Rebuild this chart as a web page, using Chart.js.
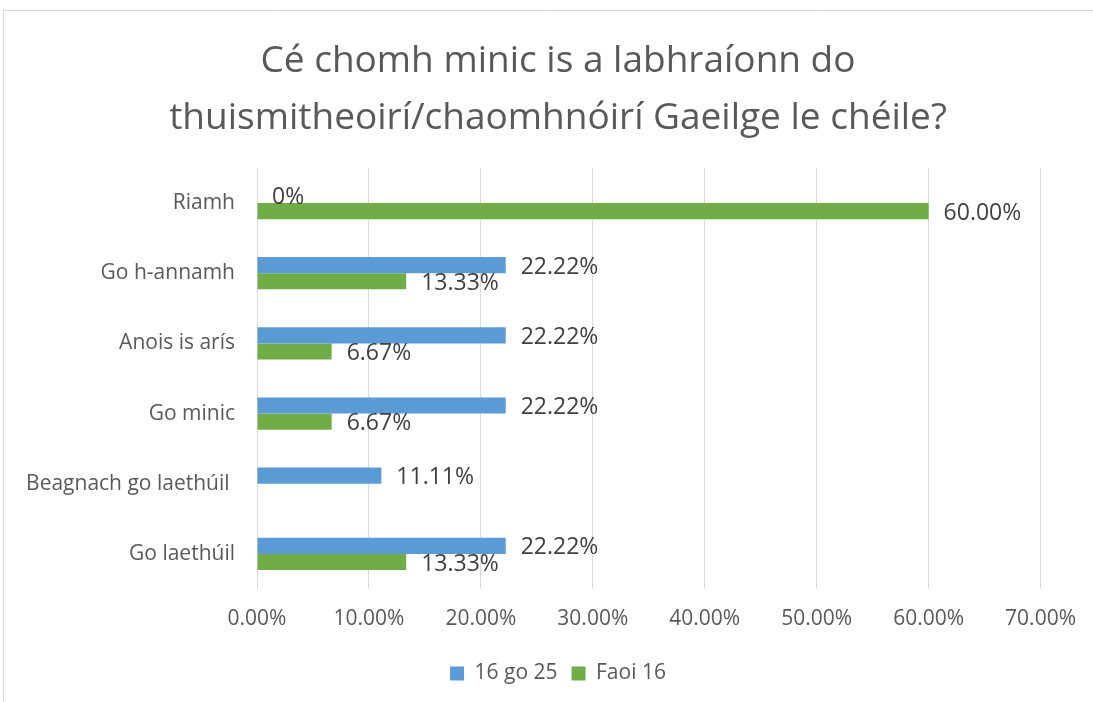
<!DOCTYPE html>
<html>
<head>
<meta charset="utf-8">
<script src="https://cdn.jsdelivr.net/npm/chart.js@4/dist/chart.umd.min.js"></script>
<style>
html,body{margin:0;padding:0;background:#fff;}
#wrap{width:1093px;height:702px;position:relative;}
</style>
</head>
<body>
<div id="wrap"><canvas id="c" width="1093" height="702"></canvas></div>
<script>
const titleLines = ["Cé chomh minic is a labhraíonn do", "thuismitheoirí/chaomhnóirí Gaeilge le chéile?"];
const categories = ["Riamh", "Go h-annamh", "Anois is arís", "Go minic", "Beagnach go laethúil ", "Go laethúil"];
const seriesNames = ["16 go 25", "Faoi 16"];
const values16go25 = [0, 22.22, 22.22, 22.22, 11.11, 22.22];
const valuesFaoi16 = [60.00, 13.33, 6.67, 6.67, null, 13.33];
const xTicks = [0, 10, 20, 30, 40, 50, 60, 70];

const FONT = "'Open Sans', sans-serif";

const frame = {
  id: 'frame',
  beforeDraw(chart) {
    const ctx = chart.ctx;
    ctx.save();
    ctx.fillStyle = '#fff';
    ctx.fillRect(0, 0, chart.width, chart.height);
    ctx.strokeStyle = '#d9d9d9';
    ctx.lineWidth = 1;
    ctx.beginPath();
    ctx.moveTo(3.5, chart.height + 5);
    ctx.lineTo(3.5, 10.5);
    ctx.lineTo(chart.width + 5, 10.5);
    ctx.stroke();
    ctx.restore();
  }
};

const dataLabels = {
  id: 'dataLabels',
  afterDatasetsDraw(chart) {
    const ctx = chart.ctx;
    ctx.save();
    ctx.font = "23px " + FONT;
    ctx.fillStyle = '#404040';
    ctx.textAlign = 'left';
    ctx.textBaseline = 'middle';
    chart.data.datasets.forEach((ds, di) => {
      const meta = chart.getDatasetMeta(di);
      meta.data.forEach((el, i) => {
        const v = ds.data[i];
        if (v === null || v === undefined) return;
        const txt = v === 0 ? '0%' : v.toFixed(2) + '%';
        ctx.fillText(txt, el.x + 15, el.y + 2);
      });
    });
    ctx.restore();
  }
};

new Chart(document.getElementById('c'), {
  type: 'bar',
  data: {
    labels: categories,
    datasets: [
      { label: seriesNames[0], data: values16go25, backgroundColor: '#5B9BD5', borderWidth: 0 },
      { label: seriesNames[1], data: valuesFaoi16, backgroundColor: '#70AD47', borderWidth: 0 }
    ]
  },
  options: {
    indexAxis: 'y',
    responsive: false,
    animation: false,
    devicePixelRatio: 1,
    layout: { padding: { left: 23, right: 0, top: 0, bottom: 8 } },
    datasets: { bar: { categoryPercentage: 0.46, barPercentage: 1.0 } },
    scales: {
      x: {
        min: 0, max: 70,
        afterBuildTicks(scale) { scale.ticks = xTicks.map(v => ({ value: v })); },
        ticks: {
          callback: v => v.toFixed(2) + '%',
          color: '#595959',
          font: { family: FONT, size: 21 },
          padding: 17,
          maxRotation: 0
        },
        grid: { color: '#d9d9d9', lineWidth: 1, drawTicks: false },
        border: { display: false },
        afterFit(scale) { scale.height = 60; }
      },
      y: {
        ticks: {
          color: '#595959',
          font: { family: FONT, size: 21 },
          padding: 22
        },
        grid: { display: false, drawTicks: false },
        border: { display: false },
        afterFit(scale) { scale.width = 234; }
      },
      yRight: {
        type: 'category',
        labels: categories,
        position: 'right',
        display: true,
        ticks: { display: false },
        grid: { display: false, drawTicks: false },
        border: { display: false },
        afterFit(scale) { scale.width = 52; }
      }
    },
    plugins: {
      title: {
        display: true,
        text: titleLines,
        color: '#595959',
        font: { family: FONT, size: 37, weight: 'normal', lineHeight: 1.54 },
        padding: { top: 33, bottom: 21 }
      },
      legend: {
        position: 'bottom',
        labels: {
          boxWidth: 14, boxHeight: 14,
          color: '#595959',
          font: { family: FONT, size: 21 },
          padding: 14
        }
      },
      tooltip: { enabled: false }
    }
  },
  plugins: [frame, dataLabels]
});
</script>
</body>
</html>
